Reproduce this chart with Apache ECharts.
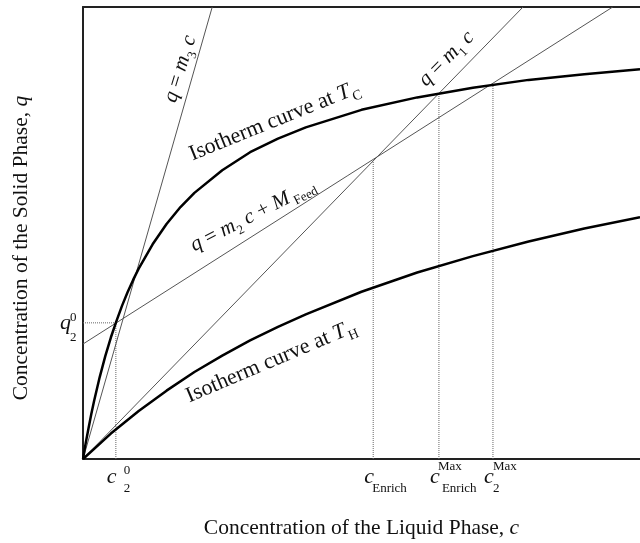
<!DOCTYPE html>
<html>
<head>
<meta charset="utf-8">
<script src="https://cdn.jsdelivr.net/npm/echarts@6/dist/echarts.min.js"></script>
<style>
  html, body { margin: 0; padding: 0; background: #fff; }
  #chart { width: 640px; height: 543px; }
</style>
</head>
<body>
<div id="chart"></div>
<script>
// Liquid-phase concentration c (x) and solid-phase loading q (y), arbitrary units.

// Isotherm at the cold temperature T_C
const isoColdC = [0, 0.05, 0.1, 0.15, 0.2, 0.3, 0.4, 0.5, 0.6, 0.7, 0.8, 0.9, 1.0, 1.25, 1.5, 1.75, 2, 2.5, 3, 3.5, 4, 5, 6, 7, 8, 9, 10];
const isoColdQ = [0, 0.29, 0.55, 0.80, 1.03, 1.45, 1.82, 2.15, 2.44, 2.71, 2.95, 3.17, 3.37, 3.80, 4.16, 4.46, 4.71, 5.11, 5.43, 5.67, 5.87, 6.18, 6.40, 6.57, 6.71, 6.81, 6.90];

// Isotherm at the hot temperature T_H
const isoHotC = [0, 0.5, 1, 1.5, 2, 2.5, 3, 3.5, 4, 5, 6, 7, 8, 9, 10];
const isoHotQ = [0, 0.45, 0.85, 1.21, 1.54, 1.83, 2.10, 2.34, 2.56, 2.96, 3.30, 3.59, 3.85, 4.08, 4.28];

// Operating lines (end points)
const lineM3C = [0, 2.32];
const lineM3Q = [0, 8];
const lineM1C = [0, 7.9];
const lineM1Q = [0, 8];
const lineM2C = [0, 9.51];
const lineM2Q = [2.035, 8];

// Marked states: c2^0, c_Enrich, c_Enrich^Max, c2^Max
const markC = [0.59, 5.21, 6.39, 7.36];
const markQ = [2.41, 5.28, 6.47, 6.64];

const X_MAX = 10, Y_MAX = 8;

const zip = (xs, ys) => xs.map((x, i) => [x, ys[i]]);

const chart = echarts.init(document.getElementById('chart'), null, { renderer: 'canvas' });

const thin = { color: '#555', width: 1 };
const dotted = { color: '#666', width: 1, type: 'dotted' };
const thick = { color: '#000', width: 2.5, join: 'round' };

const series = [];
// dotted guides
markC.forEach((c, i) => {
  series.push({ type: 'line', data: [[c, 0], [c, markQ[i]]], showSymbol: false, lineStyle: dotted, z: 1, silent: true });
});
series.push({ type: 'line', data: [[0, markQ[0]], [markC[0], markQ[0]]], showSymbol: false, lineStyle: dotted, z: 1, silent: true });
// operating lines
series.push({ type: 'line', data: zip(lineM3C, lineM3Q), showSymbol: false, lineStyle: thin, z: 2 });
series.push({ type: 'line', data: zip(lineM1C, lineM1Q), showSymbol: false, lineStyle: thin, z: 2 });
series.push({ type: 'line', data: zip(lineM2C, lineM2Q), showSymbol: false, lineStyle: thin, z: 2 });
// isotherms
series.push({ type: 'line', data: zip(isoColdC, isoColdQ), showSymbol: false, lineStyle: thick, z: 3 });
series.push({ type: 'line', data: zip(isoHotC, isoHotQ), showSymbol: false, lineStyle: thick, z: 3 });

const axisLine = { show: true, lineStyle: { color: '#222', width: 2 } };

chart.setOption({
  animation: false,
  backgroundColor: '#fff',
  grid: { left: 83, top: 7, right: 0, bottom: 84, containLabel: false },
  xAxis: [
    { type: 'value', min: 0, max: X_MAX, axisLine, axisTick: { show: false }, axisLabel: { show: false }, splitLine: { show: false } },
    { type: 'value', position: 'top', min: 0, max: X_MAX, axisLine, axisTick: { show: false }, axisLabel: { show: false }, splitLine: { show: false } }
  ],
  yAxis: { type: 'value', min: 0, max: Y_MAX, axisLine, axisTick: { show: false }, axisLabel: { show: false }, splitLine: { show: false } },
  series
});

// ---- text with mixed italic / upright pieces, sub- and superscripts ----
const ctx = document.createElement('canvas').getContext('2d');
const FAMILY = '"Liberation Serif", "Times New Roman", serif';
function fontOf(p) { return (p.it ? 'italic ' : '') + p.size + 'px ' + FAMILY; }
function widthOf(p) { ctx.font = fontOf(p); return ctx.measureText(p.t).width; }

// pieces laid out along a baseline starting at (x, y), rotated by angle (deg, CCW)
function mathText(pieces, x, y, angle, align) {
  let cursor = 0;
  const placed = [];
  pieces.forEach(p => {
    const start = cursor + (p.dx || 0);
    placed.push({ p, start });
    cursor = start + widthOf(p);
  });
  const shift = align === 'center' ? -cursor / 2 : 0;
  const kids = placed.map(({ p, start }) => ({
    type: 'text',
    x: start + shift,
    y: (p.dy || 0) - 0.3375 * p.size,
    style: { text: p.t, font: fontOf(p), fill: '#111', align: 'left', verticalAlign: 'middle' }
  }));
  return { type: 'group', x, y, rotation: angle * Math.PI / 180, children: kids, silent: true };
}

const px = c => chart.convertToPixel({ xAxisIndex: 0 }, c);
const py = q => chart.convertToPixel({ yAxisIndex: 0 }, q);

const BIG = 21, SUB = 13;
const graphics = [];

// axis titles
graphics.push(mathText([
  { t: 'Concentration of the Liquid Phase, ', size: 21.5 },
  { t: 'c', size: 21.5, it: true }
], (px(0) + px(X_MAX)) / 2, 536, 0, 'center'));
graphics.push(mathText([
  { t: 'Concentration of the Solid Phase, ', size: 21.5 },
  { t: 'q', size: 21.5, it: true }
], 29, 248, 90, 'center'));

// x tick symbols
const cBase = 485, subBase = 493, supBase = 471;
function cTick(c, sub, sup, subDx, supDx, supB) {
  const x = px(c);
  graphics.push(mathText([{ t: 'c', size: 22, it: true }], x - 9, cBase, 0));
  if (sub) graphics.push(mathText([{ t: sub, size: SUB }], x + subDx, subBase, 0));
  if (sup) graphics.push(mathText([{ t: sup, size: SUB }], x + supDx, supB || supBase, 0));
}
cTick(markC[0], '2', '0', 8, 8, 475);
cTick(markC[1], 'Enrich', null, -1, 0);
cTick(markC[2], 'Enrich', 'Max', 3, -1);
cTick(markC[3], '2', 'Max', 0, 0);

// y tick symbol q2^0
{
  const y = py(markQ[0]);
  graphics.push(mathText([{ t: 'q', size: 22, it: true }], 60, y + 8, 0));
  graphics.push(mathText([{ t: '0', size: SUB }], 70, y - 1, 0));
  graphics.push(mathText([{ t: '2', size: SUB }], 70, y + 19, 0));
}

// line and curve annotations
graphics.push(mathText([
  { t: 'q', size: BIG, it: true }, { t: ' = ', size: BIG }, { t: 'm', size: BIG, it: true },
  { t: '3', size: SUB, dy: 5 }, { t: ' ', size: BIG }, { t: 'c', size: BIG, it: true }
], 177, 104, 73));
graphics.push(mathText([
  { t: 'q', size: BIG, it: true }, { t: ' = ', size: BIG }, { t: 'm', size: BIG, it: true },
  { t: '1', size: SUB, dy: 5 }, { t: ' ', size: BIG }, { t: 'c', size: BIG, it: true }
], 427, 88, 45));
graphics.push(mathText([
  { t: 'q', size: BIG, it: true }, { t: ' = ', size: BIG }, { t: 'm', size: BIG, it: true },
  { t: '2', size: SUB, dy: 5 }, { t: ' ', size: BIG }, { t: 'c', size: BIG, it: true },
  { t: ' + ', size: BIG }, { t: 'M', size: BIG, it: true }, { t: ' Feed', size: SUB, dy: 4 }
], 195, 253, 27));
graphics.push(mathText([
  { t: 'Isotherm curve at ', size: 22 }, { t: 'T', size: 22, it: true }, { t: 'C', size: 14, dy: 5, dx: 1 }
], 193, 162, 22));
graphics.push(mathText([
  { t: 'Isotherm curve at ', size: 22 }, { t: 'T', size: 22, it: true }, { t: 'H', size: 14, dy: 5, dx: 1 }
], 190, 404, 23));

chart.setOption({ graphic: graphics });
</script>
</body>
</html>
